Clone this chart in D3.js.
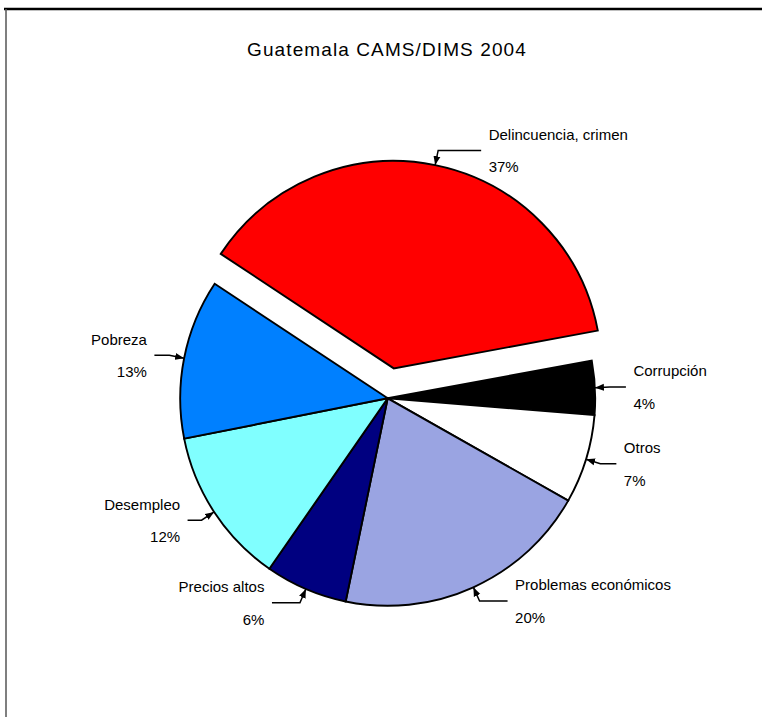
<!DOCTYPE html>
<html>
<head>
<meta charset="utf-8">
<script src="https://cdn.jsdelivr.net/npm/d3@7/dist/d3.min.js"></script>
<style>
  html, body { margin: 0; padding: 0; background: #fff; }
  svg { display: block; }
  text { font-family: "Liberation Sans", Arial, sans-serif; fill: #000; }
</style>
</head>
<body>
<script>
// ---- data ----
const title = "Guatemala CAMS/DIMS 2004";
const categories = ["Corrupción", "Otros", "Problemas económicos", "Precios altos", "Desempleo", "Pobreza", "Delincuencia, crimen"];
const values = [4.2, 6.9, 20.0, 6.4, 12.2, 12.4, 37.7];
const percentLabels = ["4%", "7%", "20%", "6%", "12%", "13%", "37%"];
const colors = ["#000000", "#FFFFFF", "#9AA4E2", "#000080", "#80FFFF", "#0080FF", "#FF0000"];
const explodeDist = [0, 0, 0, 0, 0, 0, 30.5];
const labelSide = [1, 1, 1, -1, -1, -1, 1];
const leaderLen = [16, 16, 28, 28, 14, 15, 43];

// ---- layout ----
const W = 762, H = 717;
const cx = 387.7, cy = 398.3, R = 207.5;
const startDeg = 79.5;

const svg = d3.select("body").append("svg").attr("width", W).attr("height", H);

// frame
svg.append("line").attr("x1", 4).attr("x2", W).attr("y1", 9).attr("y2", 9)
  .attr("stroke", "#000").attr("stroke-width", 2.5);
svg.append("line").attr("x1", 6).attr("x2", 6).attr("y1", 9).attr("y2", H)
  .attr("stroke", "#555").attr("stroke-width", 1.5);

// title
svg.append("text").attr("x", 387).attr("y", 56).attr("text-anchor", "middle")
  .style("font-size", "19px").style("letter-spacing", "1.1px").text(title);

// arrow marker
svg.append("defs").append("marker")
  .attr("id", "arr").attr("viewBox", "0 -4 9 8").attr("refX", 9).attr("refY", 0)
  .attr("markerUnits", "userSpaceOnUse").attr("markerWidth", 9).attr("markerHeight", 8)
  .attr("orient", "auto")
  .append("path").attr("d", "M0,-3.5L9,0L0,3.5Z").attr("fill", "#000");

const data = categories.map((c, i) => ({ name: c, value: values[i], i }));
const pie = d3.pie().value(d => d.value).sort(null)
  .startAngle(startDeg * Math.PI / 180)
  .endAngle(startDeg * Math.PI / 180 + 2 * Math.PI);
const arcs = pie(data);
const arc = d3.arc().innerRadius(0).outerRadius(R);

const g = svg.append("g").attr("transform", `translate(${cx},${cy})`);

function polar(a, r) { return [Math.sin(a) * r, -Math.cos(a) * r]; }

arcs.forEach(a => {
  const i = a.data.i;
  const mid = (a.startAngle + a.endAngle) / 2;
  const off = polar(mid, explodeDist[i]);
  const sg = g.append("g").attr("transform", `translate(${off[0]},${off[1]})`);
  sg.append("path").attr("d", arc(a)).attr("fill", colors[i])
    .attr("stroke", "#000").attr("stroke-width", 1.9).attr("stroke-linejoin", "miter");

  // leader line
  const tip = polar(mid, R);
  const elbow = polar(mid, R + 15);
  const end = [elbow[0] + labelSide[i] * leaderLen[i], elbow[1]];
  sg.append("path")
    .attr("d", d3.line()([end, elbow, tip]))
    .attr("fill", "none").attr("stroke", "#000").attr("stroke-width", 1.5)
    .attr("marker-end", "url(#arr)");

  const tx = end[0] + labelSide[i] * 7.5;
  const anchor = labelSide[i] > 0 ? "start" : "end";
  sg.append("text").attr("x", tx).attr("y", end[1] - 10.5).attr("text-anchor", anchor)
    .style("font-size", "15px").text(a.data.name);
  sg.append("text").attr("x", tx).attr("y", end[1] + 22).attr("text-anchor", anchor)
    .style("font-size", "15px").text(percentLabels[i]);
});
</script>
</body>
</html>
